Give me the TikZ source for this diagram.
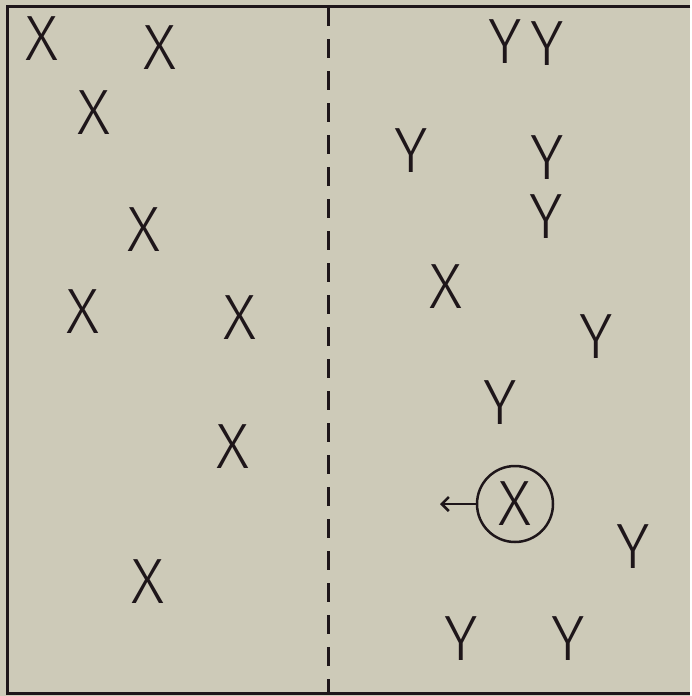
\documentclass[tikz,border=0pt]{standalone}
\usepackage{fontspec}
\newfontfamily\letterfont{Fira Sans Light}
\usetikzlibrary{arrows.meta}
\definecolor{paper}{RGB}{205,202,184}
\definecolor{ink}{RGB}{30,22,26}
\begin{document}
\begin{tikzpicture}[x=1pt, y=-1pt, >={Straight Barb[length=7pt,width=14pt]},
  letter/.style={inner sep=0pt, text=ink, font=\letterfont\fontsize{64}{64}\selectfont}]
\fill[paper] (0,0) rectangle (690,696);
% outer frame, open at the right
\draw[ink, line width=3pt] (690,6) -- (7,6) -- (7,693) -- (690,693);
% dividing line
\draw[ink, line width=3pt, dash pattern=on 19pt off 13pt] (328,7) -- (328,693);
% left side
\foreach \px/\py [count=\i] in {42/39, 160/48, 94/113, 144/230, 83/312, 240/318, 233/447, 148/582}
  \node[letter] (xl\i) at (\px,\py) {X};
% right side
\foreach \px/\py [count=\i] in {505/42, 547/44, 411/151, 547/158, 546/217, 596/337, 500/403, 633/547, 461/639, 568/639}
  \node[letter] (yr\i) at (\px,\py) {Y};
\node[letter] (xr1) at (446,287) {X};
\node[letter, circle, draw=ink, line width=2.5pt, minimum size=76pt] (xmove) at (515,504) {X};
\coordinate (tip) at (440,504);
\draw[ink, line width=2.5pt, ->] (xmove.west) -- (tip);
\end{tikzpicture}
\end{document}
